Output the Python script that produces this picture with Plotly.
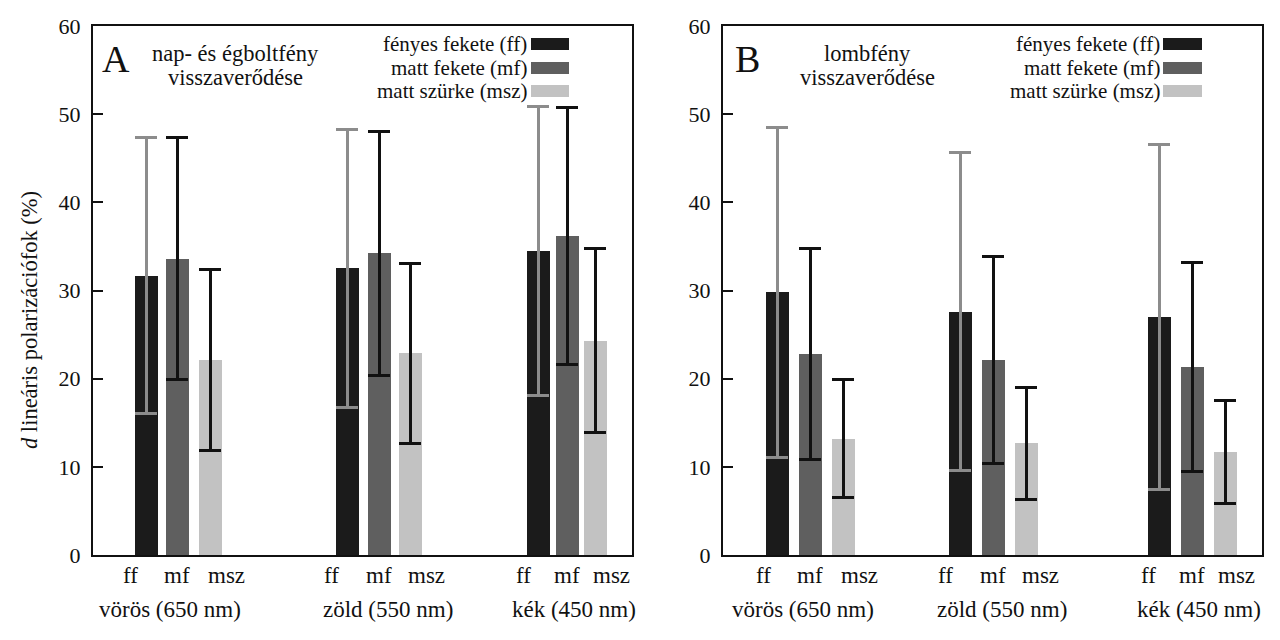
import plotly.graph_objects as go

# ---------------- data ----------------
groups = ["vörös (650 nm)", "zöld (550 nm)", "kék (450 nm)"]
series_names = ["fényes fekete (ff)", "matt fekete (mf)", "matt szürke (msz)"]
short_names = ["ff", "mf", "msz"]

A_ff = [31.7, 32.5, 34.5]
A_ff_err = [15.6, 15.75, 16.4]
A_mf = [33.6, 34.2, 36.2]
A_mf_err = [13.7, 13.8, 14.6]
A_msz = [22.1, 22.9, 24.3]
A_msz_err = [10.3, 10.2, 10.45]

B_ff = [29.8, 27.6, 27.0]
B_ff_err = [18.7, 18.05, 19.6]
B_mf = [22.8, 22.1, 21.3]
B_mf_err = [11.95, 11.75, 11.85]
B_msz = [13.2, 12.65, 11.7]
B_msz_err = [6.65, 6.35, 5.85]

y_ticks = [0, 10, 20, 30, 40, 50, 60]

# ---------------- layout constants ----------------
OFF = 8                      # page body margin of the browser
W, H = 1280 - OFF, 640 - OFF  # figure size that fits the window
FONT = "Liberation Serif"
TXT = "#111111"
bar_colors = ["#1b1b1b", "#5f5f5f", "#c2c2c2"]
err_colors = ["#8c8c8c", "#111111", "#111111"]
BAR_W = 23

# panel geometry in screen pixels
A_left, A_right = 93, 632
B_left, B_right = 723, 1262
P_top, P_bot = 26, 555

# group centres (px from panel left) and bar offsets within group
A_centers = [84, 286, 474]
A_offsets = [[-31, 0, 33], [-32, 0, 31], [-29, 0, 28]]
B_centers = [87, 270, 469]
B_offsets = [[-33, 0, 33], [-33, 0, 33], [-33, 0, 33]]
label_off = [[-47, 0, 49], [-48, 0, 47], [-44, 0, 44]]
group_label_off = [-7, 9, 7]


def px(xp):
    return (xp - OFF) / W


def py(yp):
    return 1 - (yp - OFF) / H


fig = go.Figure()

panels = [
    ("x", "y", A_centers, A_offsets, [(A_ff, A_ff_err), (A_mf, A_mf_err), (A_msz, A_msz_err)]),
    ("x2", "y2", B_centers, B_offsets, [(B_ff, B_ff_err), (B_mf, B_mf_err), (B_msz, B_msz_err)]),
]

for xa, ya, centers, offsets, data in panels:
    for s, (vals, errs) in enumerate(data):
        xs = [centers[g] + offsets[g][s] for g in range(len(groups))]
        fig.add_trace(go.Bar(
            x=xs, y=vals, width=BAR_W, xaxis=xa, yaxis=ya,
            name=series_names[s], showlegend=False,
            marker=dict(color=bar_colors[s], line=dict(width=0)),
            error_y=dict(type="data", array=errs, visible=True,
                         color=err_colors[s], thickness=3, width=11),
        ))

axis_common = dict(showgrid=False, zeroline=False, showline=True, linecolor=TXT,
                   linewidth=2, mirror=True, automargin=False)

dom_y = [py(P_bot), py(P_top)]
ytick_common = dict(range=[0, 60], tickvals=y_ticks, ticks="inside", ticklen=10,
                    tickwidth=1.5, tickcolor=TXT, ticklabelstandoff=6,
                    tickfont=dict(size=22, family=FONT, color=TXT))
fig.update_layout(
    template="none",
    width=W, height=H,
    margin=dict(l=0, r=0, t=0, b=0, pad=0, autoexpand=False),
    paper_bgcolor="white", plot_bgcolor="white",
    barmode="overlay", bargap=0,
    font=dict(family=FONT, color=TXT),
    showlegend=False,
    xaxis=dict(domain=[px(A_left), px(A_right)], range=[0, A_right - A_left],
               showticklabels=False, ticks="", **axis_common),
    xaxis2=dict(domain=[px(B_left), px(B_right)], range=[0, B_right - B_left],
                showticklabels=False, ticks="", **axis_common),
    yaxis=dict(domain=dom_y, anchor="x", **ytick_common, **axis_common),
    yaxis2=dict(domain=dom_y, anchor="x2", **ytick_common, **axis_common),
)

ann = []
shapes = []

# x labels under bars
for xa, centers in (("x", A_centers), ("x2", B_centers)):
    for g in range(len(groups)):
        for s in range(len(short_names)):
            ann.append(dict(x=centers[g] + label_off[g][s], y=py(575), xref=xa, yref="paper",
                            text=short_names[s], showarrow=False,
                            font=dict(size=23, family=FONT, color=TXT),
                            xanchor="center", yanchor="middle"))
        ann.append(dict(x=centers[g] + group_label_off[g], y=py(609), xref=xa, yref="paper",
                        text=groups[g], showarrow=False,
                        font=dict(size=23, family=FONT, color=TXT),
                        xanchor="center", yanchor="middle"))

# panel letters and subtitles
for letter, lx, sub1, sub2, sx in (("A", 100, "nap- és égboltfény", "visszaverődése", 236),
                                   ("B", 733, "lombfény", "visszaverődése", 867)):
    ann.append(dict(x=px(lx), y=py(59), xref="paper", yref="paper", text=letter,
                    showarrow=False, xanchor="left", yanchor="middle",
                    font=dict(size=38, family=FONT, color=TXT)))
    ann.append(dict(x=px(sx), y=py(53), xref="paper", yref="paper", text=sub1,
                    showarrow=False, xanchor="center", yanchor="middle",
                    font=dict(size=22.5, family=FONT, color=TXT)))
    ann.append(dict(x=px(sx), y=py(77), xref="paper", yref="paper", text=sub2,
                    showarrow=False, xanchor="center", yanchor="middle",
                    font=dict(size=22.5, family=FONT, color=TXT)))

# legends (per panel)
row_y = [44, 68, 91]
for text_end, sw_l, sw_r in ((529, 531, 569), (1162, 1163, 1202)):
    for s in range(len(series_names)):
        ann.append(dict(x=px(text_end), y=py(row_y[s]), xref="paper", yref="paper",
                        text=series_names[s], showarrow=False, xanchor="right", yanchor="middle",
                        font=dict(size=21, family=FONT, color=TXT)))
        shapes.append(dict(type="rect", xref="paper", yref="paper",
                           x0=px(sw_l), x1=px(sw_r), y0=py(row_y[s] + 6), y1=py(row_y[s] - 6),
                           fillcolor=bar_colors[s], line=dict(width=0)))

# y-axis title
ann.append(dict(x=px(29), y=py(320), xref="paper", yref="paper",
                text="<i>d</i> lineáris polarizációfok (%)", showarrow=False,
                textangle=-90, xanchor="center", yanchor="middle",
                font=dict(size=22.5, family=FONT, color=TXT)))

fig.update_layout(annotations=ann, shapes=shapes)

fig.write_html("out.html")
